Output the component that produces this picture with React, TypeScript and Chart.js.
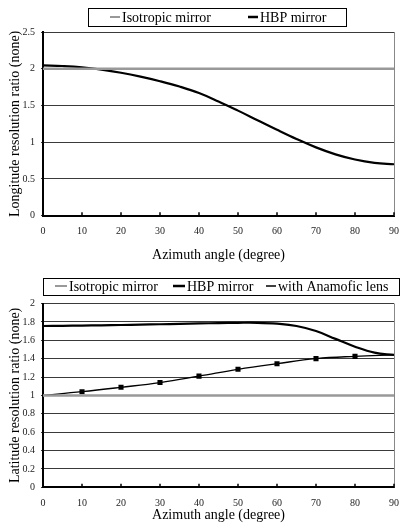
import React, { useEffect, useRef } from "react";
import { Chart, registerables } from "chart.js";
Chart.register(...registerables);

// ---------- data ----------
const azimuthFine = [0, 5, 10, 15, 20, 25, 30, 35, 40, 45, 50, 55, 60, 65, 70, 75, 80, 85, 90];
const azimuthCoarse = [0, 10, 20, 30, 40, 50, 60, 70, 80, 90];

// Longitude chart
const lonIsotropic = [2, 2, 2, 2, 2, 2, 2, 2, 2, 2, 2, 2, 2, 2, 2, 2, 2, 2, 2];
const lonHBP = [2.045, 2.037, 2.02, 1.988, 1.945, 1.892, 1.83, 1.758, 1.67, 1.555, 1.43, 1.3, 1.17, 1.045, 0.93, 0.835, 0.765, 0.72, 0.7];

// Latitude chart
const latIsotropic = [1, 1, 1, 1, 1, 1, 1, 1, 1, 1];
const latHBP = [1.755, 1.757, 1.76, 1.763, 1.766, 1.77, 1.774, 1.778, 1.783, 1.787, 1.79, 1.79, 1.78, 1.755, 1.7, 1.615, 1.53, 1.465, 1.44];
const latAnamorphic = [1.0, 1.04, 1.088, 1.14, 1.21, 1.284, 1.345, 1.4, 1.425, 1.44];
const latAnamorphicMarkers = [0, 3.6, 3.6, 3.6, 3.6, 3.6, 3.6, 3.6, 3.6, 0];

// tick labels
const xTickLabels = ["0", "10", "20", "30", "40", "50", "60", "70", "80", "90"];
const lonYTickLabels = ["0", "0.5", "1", "1.5", "2", "2.5"];
const latYTickLabels = ["0", "0.2", "0.4", "0.6", "0.8", "1", "1.2", "1.4", "1.6", "1.8", "2"];

const labelsIsotropic = "Isotropic mirror";
const labelsHBP = "HBP mirror";
const labelsAnamorphic = "with Anamofic lens";

const FONT = '"Liberation Serif", "Times New Roman", serif';

const framePlugin = {
  id: "frame",
  afterDraw(chart: any, _args: any, opts: any) {
    const { ctx, chartArea } = chart;
    const { right, top, bottom } = chartArea;
    const x = chart.scales.x;
    ctx.save();
    // right border
    ctx.strokeStyle = "#888";
    ctx.lineWidth = 1;
    ctx.beginPath();
    ctx.moveTo(Math.round(right) + 0.5, top);
    ctx.lineTo(Math.round(right) + 0.5, bottom);
    ctx.stroke();
    // inner tick marks
    ctx.strokeStyle = "#000";
    ctx.lineWidth = 1.5;
    x.ticks.forEach((t: any) => {
      const px = x.getPixelForValue(t.value);
      ctx.beginPath();
      ctx.moveTo(px, bottom);
      ctx.lineTo(px, bottom - 3.5);
      ctx.stroke();
    });
    // boxed legend
    const L = opts.legend;
    if (L) {
      ctx.strokeStyle = "#000";
      ctx.lineWidth = 1;
      ctx.strokeRect(L.box[0], L.box[1], L.box[2], L.box[3]);
      ctx.font = `14px ${FONT}`;
      ctx.textBaseline = "middle";
      ctx.textAlign = "left";
      ctx.fillStyle = "#000";
      chart.data.datasets.forEach((ds: any, i: number) => {
        const ix = L.items[i];
        ctx.strokeStyle = ds.borderColor;
        ctx.lineWidth = L.dashWidth[i];
        ctx.beginPath();
        ctx.moveTo(ix, L.y - 1);
        ctx.lineTo(ix + L.dashLen[i], L.y - 1);
        ctx.stroke();
        ctx.fillText(ds.label, ix + L.dashLen[i] + 2, L.y);
      });
    }
    ctx.restore();
  },
};

function makeOptions(p: {
  yMax: number;
  yStep: number;
  yLabels: string[];
  yTitle: string;
  padTop: number;
  xHeight: number;
  legend: any;
}): any {
  return {
    responsive: false,
    animation: false,
    devicePixelRatio: 1,
    layout: { padding: { top: p.padTop, right: 6, left: 0, bottom: 0 } },
    plugins: {
      legend: { display: false },
      tooltip: { enabled: false },
      frame: { legend: p.legend },
    },
    elements: { line: { tension: 0.4 } },
    scales: {
      x: {
        type: "linear",
        min: 0,
        max: 90,
        ticks: {
          stepSize: 10,
          padding: 10,
          maxRotation: 0,
          color: "#222",
          font: { family: FONT, size: 10 },
          callback: (_v: any, i: number) => xTickLabels[i],
        },
        grid: { display: true, drawOnChartArea: false, drawTicks: false, color: "rgba(0,0,0,0)" },
        border: { display: true, color: "#000", width: 2 },
        title: {
          display: true,
          text: "Azimuth angle (degree)",
          color: "#000",
          font: { family: FONT, size: 14 },
          padding: { top: 0, bottom: 1.6 },
        },
        afterFit: (s: any) => {
          s.height = p.xHeight;
        },
      },
      y: {
        min: 0,
        max: p.yMax,
        ticks: {
          stepSize: p.yStep,
          padding: 6,
          color: "#222",
          font: { family: FONT, size: 10 },
          callback: (_v: any, i: number) => p.yLabels[i],
        },
        grid: { color: "#3a3a3a", lineWidth: 1, tickLength: 2, drawTicks: true },
        border: { display: true, color: "#000", width: 2 },
        title: {
          display: true,
          text: p.yTitle,
          color: "#000",
          font: { family: FONT, size: 14 },
          padding: { top: 6.5, bottom: 0 },
        },
        afterFit: (s: any) => {
          s.width = 43;
        },
      },
    },
  };
}

function TopChart() {
  const ref = useRef<HTMLCanvasElement>(null);
  useEffect(() => {
    if (!ref.current) return;
    const chart = new Chart(ref.current, {
      type: "line",
      data: {
        datasets: [
          {
            label: labelsIsotropic,
            data: azimuthFine.map((a, i) => ({ x: a, y: lonIsotropic[i] })),
            borderColor: "#999",
            borderWidth: 2.5,
            pointRadius: 0,
          },
          {
            label: labelsHBP,
            data: azimuthFine.map((a, i) => ({ x: a, y: lonHBP[i] })),
            borderColor: "#000",
            borderWidth: 2.2,
            pointRadius: 0,
          },
        ],
      },
      options: makeOptions({
        yMax: 2.5,
        yStep: 0.5,
        yLabels: lonYTickLabels,
        yTitle: "Longitude resolution ratio (none)",
        padTop: 32,
        xHeight: 49.3,
        legend: { box: [88.5, 8.5, 258, 18], y: 18, items: [110, 248], dashLen: [10, 10], dashWidth: [2, 2.5] },
      }),
      plugins: [framePlugin],
    } as any);
    return () => chart.destroy();
  }, []);
  return <canvas ref={ref} width={409} height={265} style={{ display: "block", width: 409, height: 265 }} />;
}

function BottomChart() {
  const ref = useRef<HTMLCanvasElement>(null);
  useEffect(() => {
    if (!ref.current) return;
    const chart = new Chart(ref.current, {
      type: "line",
      data: {
        datasets: [
          {
            label: labelsIsotropic,
            data: azimuthCoarse.map((a, i) => ({ x: a, y: latIsotropic[i] })),
            borderColor: "#999",
            borderWidth: 2.5,
            pointRadius: 0,
          },
          {
            label: labelsHBP,
            data: azimuthFine.map((a, i) => ({ x: a, y: latHBP[i] })),
            borderColor: "#000",
            borderWidth: 2.2,
            pointRadius: 0,
          },
          {
            label: labelsAnamorphic,
            data: azimuthCoarse.map((a, i) => ({ x: a, y: latAnamorphic[i] })),
            borderColor: "#000",
            backgroundColor: "#000",
            borderWidth: 1.3,
            pointStyle: "rect",
            pointRadius: latAnamorphicMarkers,
            pointBorderWidth: 0,
          },
        ],
      },
      options: makeOptions({
        yMax: 2,
        yStep: 0.2,
        yLabels: latYTickLabels,
        yTitle: "Latitude resolution ratio (none)",
        padTop: 38.5,
        xHeight: 37.7,
        legend: {
          box: [43.5, 13.5, 356, 17],
          y: 22,
          items: [55, 173, 266],
          dashLen: [12, 12, 10],
          dashWidth: [2, 2.5, 1.5],
        },
      }),
      plugins: [framePlugin],
    } as any);
    return () => chart.destroy();
  }, []);
  return <canvas ref={ref} width={409} height={260} style={{ display: "block", width: 409, height: 260 }} />;
}

export default function App() {
  return (
    <div style={{ position: "absolute", left: 0, top: 0, width: 409, height: 525, background: "#fff" }}>
      <TopChart />
      <BottomChart />
    </div>
  );
}
